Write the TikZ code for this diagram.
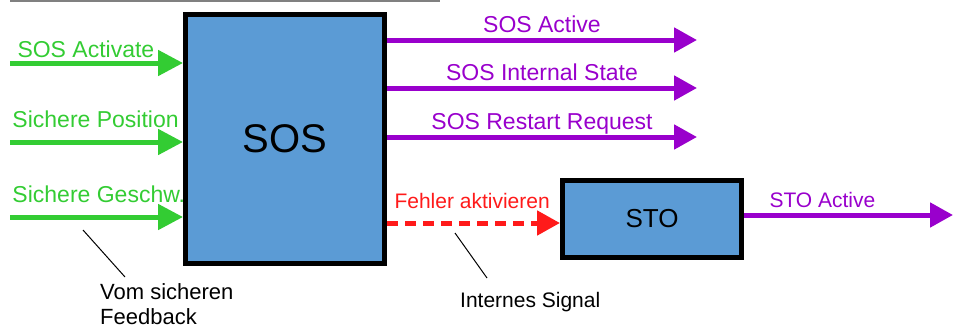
\documentclass[tikz,border=0pt]{standalone}
\usepackage{fontspec}
\setmainfont{Liberation Sans}
\usetikzlibrary{arrows.meta,positioning}
\definecolor{safe}{HTML}{33CC33}
\definecolor{state}{HTML}{9900CC}
\definecolor{fault}{HTML}{FF1A1A}
\definecolor{func}{HTML}{5B9BD5}
\tikzset{fn/.style={draw,line width=5pt,fill=func,inner sep=0pt},insig/.style={-{Triangle[length=25pt,width=25pt]},line width=5pt,safe,font=\fontsize{23}{27}\selectfont},outsig/.style={-{Triangle[length=23pt,width=24pt]},line width=5pt,state,font=\fontsize{23}{27}\selectfont},intsig/.style={outsig,fault,dash pattern=on 11pt off 7pt,font=\fontsize{21}{25}\selectfont},lbl/.style={inner sep=0pt,anchor=base west},lblc/.style={inner sep=0pt,anchor=base,yshift=8pt},note/.style={font=\fontsize{22}{25}\selectfont,align=left,inner sep=0pt,anchor=north west},pointer/.style={line width=1pt,black}}

\begin{document}
\begin{tikzpicture}[x=1pt,y=-1pt]
\useasboundingbox (0,0) rectangle (955,327);
\draw[black!50,line width=2pt] (10,1) -- (440,1);
\node[fn,minimum width=199pt,minimum height=249pt,font=\fontsize{40}{44}\selectfont] (sos) at (285,139) {SOS};\node[fn,minimum width=179pt,minimum height=77pt,font=\fontsize{26}{30}\selectfont] (sto) at (652,219) {STO};
% inputs
\coordinate (act) at (10,63);\coordinate (pos) at (10,142);\coordinate (vel) at (10,217);
\draw[insig] (act) -- node[pos=0,lbl,xshift=5pt,yshift=6pt]{SOS Activate} (act -| sos.west);\draw[insig] (pos) -- node[pos=0,lbl,yshift=15pt]{Sichere Position} (pos -| sos.west);\draw[insig] (vel) -- node[pos=0,lbl,yshift=15pt]{Sichere Geschw.} (vel -| sos.west);
% outputs
\coordinate (sosact) at (697,40);\coordinate (intstate) at (697,88);\coordinate (restart) at (697,137);\coordinate[yshift=-4pt] (fin) at (sto.west);\coordinate (stoact) at (953,215);
\draw[outsig] (sos.east |- sosact) -- node[lblc]{SOS Active} (sosact);\draw[outsig] (sos.east |- intstate) -- node[lblc]{SOS Internal State} (intstate);\draw[outsig] (sos.east |- restart) -- node[lblc]{SOS Restart Request} (restart);
\draw[intsig] (fin -| sos.east) -- node[pos=0,lbl,xshift=5pt,yshift=15pt]{Fehler aktivieren} (fin);\draw[outsig,font=\fontsize{21}{25}\selectfont] (sto.east |- stoact) -- node[pos=0,lbl,xshift=23pt,yshift=8pt]{STO Active} (stoact);
% notes
\coordinate (fbtip) at (83,230);\coordinate (sigtip) at (455,233);
\node[note] (fb) at (100,283) {Vom sicheren\\Feedback};\node[note,font=\fontsize{21}{25}\selectfont] (sig) at (460,292) {Internes Signal};
\draw[pointer] (fbtip) -- ([xshift=25pt,yshift=6pt]fb.north west);\draw[pointer] (sigtip) -- ([xshift=27pt,yshift=14pt]sig.north west);
\end{tikzpicture}
\end{document}
